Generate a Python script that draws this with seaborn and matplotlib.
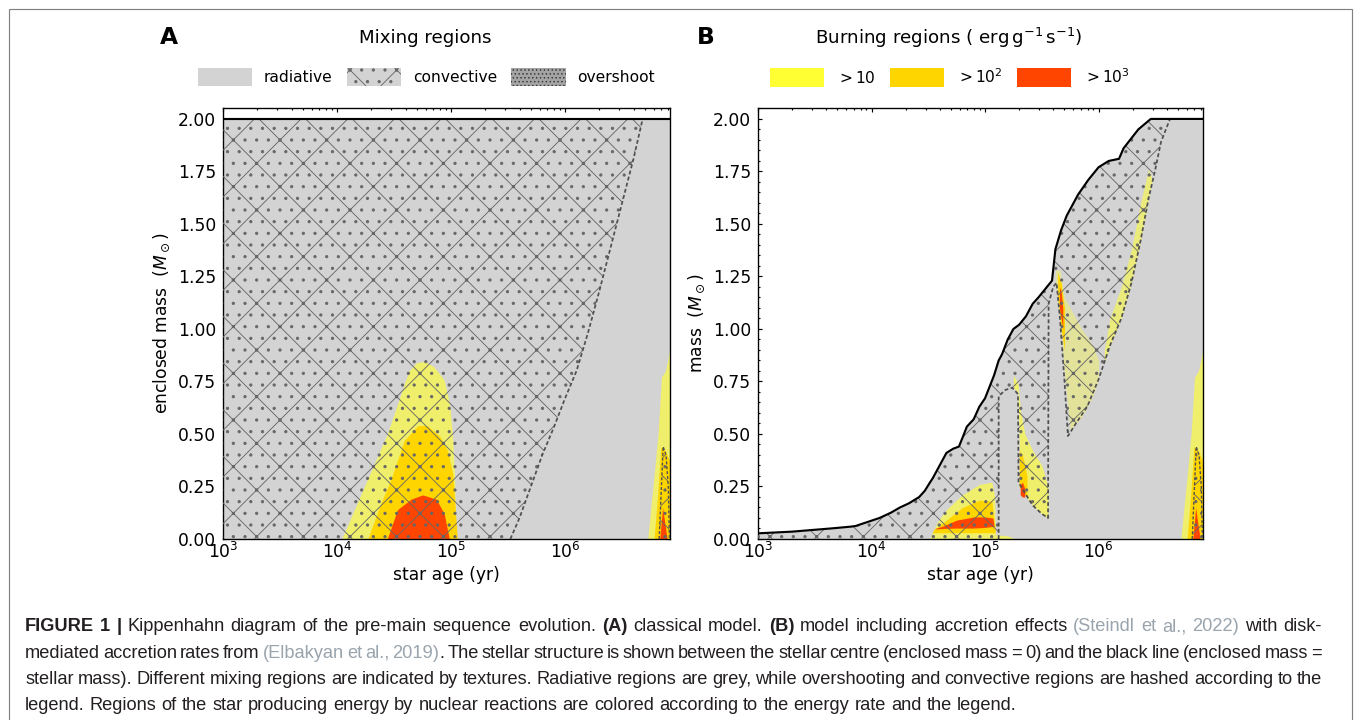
import numpy as np
import matplotlib
matplotlib.use("Agg")
import matplotlib.pyplot as plt
from matplotlib.patches import Patch, Rectangle
from matplotlib.ticker import MultipleLocator, FormatStrFormatter
import seaborn as sns

W, H, DPI = 1355, 720, 140

# ---------------- panel A: classical model (log10 age [yr], mass [Msun]) -----
a_mass_log = [3.0, 6.92]
a_mass = [2.0, 2.0]
# convective / radiative boundary
a_conv_edge_log = [5.52, 5.6, 5.7, 5.8, 5.9, 6.0, 6.1, 6.2, 6.3, 6.4, 6.5, 6.6, 6.68]
a_conv_edge_m = [0.0, 0.1, 0.25, 0.4, 0.53, 0.67, 0.8, 0.98, 1.18, 1.39, 1.6, 1.81, 2.0]
# burning domes
a_yel_log = [4.04, 4.24, 4.44, 4.63, 4.70, 4.77, 4.85, 4.94, 4.99, 5.015, 5.03, 5.045]
a_yel_m = [0.0, 0.25, 0.5, 0.8, 0.84, 0.845, 0.82, 0.757, 0.63, 0.47, 0.31, 0.0]
a_org_log = [4.27, 4.37, 4.47, 4.59, 4.71, 4.79, 4.90, 4.97, 5.015, 5.055]
a_org_m = [0.0, 0.15, 0.28, 0.47, 0.54, 0.54, 0.49, 0.42, 0.31, 0.0]
a_red_log = [4.44, 4.53, 4.65, 4.75, 4.87, 4.94, 4.985]
a_red_m = [0.0, 0.14, 0.19, 0.21, 0.19, 0.12, 0.0]

# ---------------- ZAMS end (same in both panels) ------------------------------
z_yel_log = [6.725, 6.78, 6.815, 6.845, 6.88, 6.93]
z_yel_m = [0.0, 0.3, 0.50, 0.77, 0.80, 0.93]
z_org_log = [6.78, 6.81, 6.84, 6.88, 6.93]
z_org_m = [0.0, 0.2, 0.44, 0.42, 0.35]
z_conv_log = [6.825, 6.86, 6.885, 6.905, 6.915]
z_conv_m = [0.0, 0.44, 0.40, 0.25, 0.0]
z_red_log = [6.83, 6.855, 6.895]
z_red_m = [0.0, 0.15, 0.0]

# ---------------- panel B: accretion model -----------------------------------
b_mass_log = [3.0, 3.3, 3.66, 3.82, 3.86, 4.07, 4.17, 4.25, 4.33, 4.42, 4.47, 4.51,
              4.54, 4.60, 4.66, 4.72, 4.77, 4.80, 4.84, 4.90, 4.95, 5.0, 5.04, 5.08,
              5.12, 5.15, 5.2, 5.25, 5.3, 5.36, 5.42, 5.47, 5.53, 5.59, 5.62, 5.67,
              5.72, 5.82, 5.91, 6.0, 6.09, 6.18, 6.22, 6.35, 6.46, 6.92]
b_mass = [0.027, 0.035, 0.051, 0.059, 0.062, 0.10, 0.125, 0.15, 0.17, 0.20, 0.23, 0.265,
          0.29, 0.35, 0.41, 0.43, 0.44, 0.48, 0.535, 0.57, 0.63, 0.67, 0.725, 0.78,
          0.85, 0.88, 0.95, 1.0, 1.02, 1.06, 1.12, 1.15, 1.19, 1.23, 1.38, 1.47,
          1.54, 1.64, 1.71, 1.77, 1.80, 1.81, 1.86, 1.95, 2.0, 2.0]
# lower edge of the convective envelope (radiative spikes below it)
b_conv_low_log = [3.0, 5.12, 5.12, 5.18, 5.24, 5.29, 5.295, 5.35, 5.42, 5.5, 5.555,
                  5.56, 5.6, 5.63, 5.66, 5.70, 5.73, 5.8, 5.9, 6.0, 6.1, 6.2, 6.29,
                  6.37, 6.44, 6.5, 6.55, 6.6, 6.63]
b_conv_low_m = [0.0, 0.0, 0.68, 0.71, 0.72, 0.69, 0.27, 0.22, 0.16, 0.12, 0.10,
                1.12, 1.2, 1.22, 1.05, 0.75, 0.49, 0.55, 0.63, 0.76, 0.92, 1.05, 1.22,
                1.42, 1.62, 1.76, 1.89, 1.96, 2.0]
# burning bands (lower / upper mass)
b_yel1_log = [4.51, 4.58, 4.66, 4.80, 4.95, 5.06, 5.085, 5.09, 5.2, 5.27]
b_yel1_m = [0.0, 0.08, 0.14, 0.21, 0.26, 0.27, 0.2, 0.02, 0.015, 0.0]
b_org1_log = [4.54, 4.66, 4.80, 4.95, 5.06, 5.09]
b_org1_lo = [0.03, 0.03, 0.03, 0.03, 0.03, 0.03]
b_org1_hi = [0.04, 0.09, 0.15, 0.185, 0.18, 0.04]
b_red1_log = [4.56, 4.63, 4.75, 4.9, 5.0, 5.07, 5.08]
b_red1_lo = [0.048, 0.05, 0.052, 0.052, 0.055, 0.06, 0.055]
b_red1_hi = [0.05, 0.062, 0.09, 0.105, 0.105, 0.10, 0.055]

b_yel2_log = [5.25, 5.29, 5.31, 5.35, 5.42, 5.5, 5.555]
b_yel2_lo = [0.72, 0.70, 0.26, 0.21, 0.16, 0.12, 0.10]
b_yel2_hi = [0.78, 0.74, 0.62, 0.5, 0.42, 0.35, 0.25]
b_org2_log = [5.30, 5.33, 5.37]
b_org2_lo = [0.25, 0.22, 0.2]
b_org2_hi = [0.42, 0.40, 0.3]
b_red2_log = [5.31, 5.33, 5.35]
b_red2_lo = [0.21, 0.2, 0.2]
b_red2_hi = [0.26, 0.27, 0.24]

b_yel3_log = [5.62, 5.66, 5.70, 5.75, 5.85, 5.95, 6.0]
b_yel3_lo = [1.22, 1.05, 0.78, 0.52, 0.58, 0.68, 0.76]
b_yel3_hi = [1.28, 1.28, 1.15, 1.1, 1.0, 0.92, 0.85]
b_org3_log = [5.64, 5.67, 5.70]
b_org3_lo = [1.15, 1.0, 0.9]
b_org3_hi = [1.27, 1.22, 1.1]
b_red3_log = [5.655, 5.67, 5.685]
b_red3_lo = [1.1, 1.05, 1.0]
b_red3_hi = [1.2, 1.18, 1.1]

b_yel4_log = [6.05, 6.1, 6.2, 6.29, 6.37, 6.44, 6.47]
b_yel4_lo = [0.84, 0.92, 1.05, 1.22, 1.42, 1.62, 1.7]
b_yel4_hi = [0.9, 1.05, 1.2, 1.38, 1.6, 1.76, 1.72]

mix_labels = ['radiative', 'convective', 'overshoot']
burn_labels = [r'$>10$', r'$>10^2$', r'$>10^3$']

caption = [
    "**FIGURE 1 |** Kippenhahn diagram of the pre-main sequence evolution. **(A)** classical model. "
    "**(B)** model including accretion effects {(Steindl et al., 2022)} with disk-",
    "mediated accretion rates from {(Elbakyan et al., 2019)}. The stellar structure is shown between "
    "the stellar centre (enclosed mass = 0) and the black line (enclosed mass =",
    "stellar mass). Different mixing regions are indicated by textures. Radiative regions are grey, "
    "while overshooting and convective regions are hashed according to the",
    "legend. Regions of the star producing energy by nuclear reactions are colored according to the "
    "energy rate and the legend.",
]

GREY = '#d3d3d3'
HATCH = '#666666'
YEL = '#ffff33'
GOLD = '#ffd500'
RED = '#ff4500'
TXT = '#231f20'
CITE = '#9aa4ad'

sns.set_theme(style='ticks')
plt.rcParams.update({
    'font.family': ['DejaVu Sans'],
    'hatch.linewidth': 0.45,
    'axes.linewidth': 0.7,
    'axes.edgecolor': 'black',
    'xtick.color': 'black',
    'ytick.color': 'black',
    'text.color': 'black',
    'axes.labelcolor': 'black',
})

fig = plt.figure(figsize=(W / DPI, H / DPI), dpi=DPI)
axA = fig.add_axes([223 / W, 1 - 539 / H, 447 / W, 431 / H])
axB = fig.add_axes([758 / W, 1 - 539 / H, 445 / W, 431 / H])


def L(v):
    return 10 ** np.asarray(v, float)


def band(ax, xlog, lo, hi, color, alpha=1.0, z=2):
    ax.fill_between(L(xlog), lo, hi, color=color, alpha=alpha, linewidth=0, zorder=z)


def conv(ax, xlog, m):
    ax.fill(L(xlog), m, facecolor='none', edgecolor=HATCH, hatch='x..', linewidth=0, zorder=3)


def edge(ax, xlog, m, color='#505050', lw=0.9, ls=(0, (2.2, 1.4)), z=4):
    sns.lineplot(x=L(xlog), y=m, ax=ax, color=color, lw=lw, linestyle=ls,
                 sort=False, estimator=None, zorder=z, legend=False)


for ax in (axA, axB):
    ax.set_xscale('log')

# ---- panel A
band(axA, a_mass_log, 0, a_mass, GREY, z=1)
band(axA, a_yel_log, 0, a_yel_m, YEL, 0.65)
band(axA, a_org_log, 0, a_org_m, GOLD)
band(axA, a_red_log, 0, a_red_m, RED)
conv(axA, [a_mass_log[0], a_mass_log[0]] + a_conv_edge_log[::-1],
     [0.0, a_mass[0]] + a_conv_edge_m[::-1])
edge(axA, a_conv_edge_log, a_conv_edge_m)

# ---- panel B
band(axB, b_mass_log, 0, b_mass, GREY, z=1)
band(axB, b_yel1_log, 0, b_yel1_m, YEL, 0.65)
band(axB, b_org1_log, b_org1_lo, b_org1_hi, GOLD)
band(axB, b_red1_log, b_red1_lo, b_red1_hi, RED)
band(axB, b_yel2_log, b_yel2_lo, b_yel2_hi, YEL, 0.65)
band(axB, b_org2_log, b_org2_lo, b_org2_hi, GOLD)
band(axB, b_red2_log, b_red2_lo, b_red2_hi, RED)
band(axB, b_yel3_log, b_yel3_lo, b_yel3_hi, YEL, 0.35)
band(axB, b_org3_log, b_org3_lo, b_org3_hi, GOLD)
band(axB, b_red3_log, b_red3_lo, b_red3_hi, RED)
band(axB, b_yel4_log, b_yel4_lo, b_yel4_hi, YEL, 0.55)
top = [i for i, v in enumerate(b_mass_log) if v <= b_conv_low_log[-1]]
conv(axB, [b_mass_log[i] for i in top] + b_conv_low_log[::-1],
     [b_mass[i] for i in top] + b_conv_low_m[::-1])
edge(axB, b_conv_low_log[1:], b_conv_low_m[1:])

# ---- ZAMS end, both panels
for ax in (axA, axB):
    band(ax, z_yel_log, 0, z_yel_m, YEL, 0.65)
    band(ax, z_org_log, 0, z_org_m, GOLD)
    band(ax, z_red_log, 0, z_red_m, RED)
    conv(ax, z_conv_log, z_conv_m)
    edge(ax, z_conv_log, z_conv_m, lw=0.7)

# stellar mass
sns.lineplot(x=L(a_mass_log), y=a_mass, ax=axA, color='black', lw=1.1,
             sort=False, estimator=None, zorder=5, legend=False)
sns.lineplot(x=L(b_mass_log), y=b_mass, ax=axB, color='black', lw=1.1,
             sort=False, estimator=None, zorder=5, legend=False)

for ax, yl in ((axA, r'enclosed mass  ($M_\odot$)'), (axB, r'mass  ($M_\odot$)')):
    ax.set_xlim(1e3, 10 ** 6.92)
    ax.set_ylim(0, 2.052)
    ax.yaxis.set_major_locator(MultipleLocator(0.25))
    ax.yaxis.set_minor_locator(MultipleLocator(0.05))
    ax.yaxis.set_major_formatter(FormatStrFormatter('%.2f'))
    ax.tick_params(which='both', direction='in', top=True, right=True,
                   labelsize=8.8, width=0.6)
    ax.tick_params(which='major', length=2.2)
    ax.tick_params(which='minor', length=1.2)
    ax.tick_params(axis='x', pad=1.5)
    ax.set_xlabel('star age (yr)', fontsize=8.8, labelpad=2)
    ax.set_ylabel(yl, fontsize=8.8, labelpad=3)
    for s in ax.spines.values():
        s.set_linewidth(0.7)

# legends
mix_handles = [
    Patch(facecolor=GREY, linewidth=0),
    Patch(facecolor=GREY, edgecolor=HATCH, hatch='x..', linewidth=0),
    Patch(facecolor='#a4a4a4', edgecolor='#3a3a3a', hatch='......', linewidth=0),
]
burn_handles = [Patch(facecolor=c, linewidth=0) for c in (YEL, GOLD, RED)]
leg_kw = dict(loc='center', ncol=3, frameon=False, fontsize=8, handlelength=3.5,
              handleheight=1.45, handletextpad=0.75, columnspacing=0.9, borderpad=0)
axA.legend(mix_handles, mix_labels, bbox_to_anchor=(0.455, 1 + 31 / 431), **leg_kw)
axB.legend(burn_handles, burn_labels, bbox_to_anchor=(0.431, 1 + 31 / 431), **leg_kw)

fig.text(425 / W, 1 - 38 / H, 'Mixing regions', ha='center', va='center', fontsize=9.4)
fig.text(949 / W, 1 - 38 / H, r'Burning regions ( $\mathrm{erg\,g^{-1}\,s^{-1}}$)',
         ha='center', va='center', fontsize=9.4)
fig.text(169 / W, 1 - 38 / H, 'A', ha='center', va='center', fontsize=12, fontweight='bold')
fig.text(706 / W, 1 - 38 / H, 'B', ha='center', va='center', fontsize=12, fontweight='bold')

# outer frame
fig.add_artist(Rectangle((9 / W, -0.05), (1352 - 9) / W, 1.05 - 9 / H,
                         transform=fig.transFigure, fill=False,
                         edgecolor='#808080', linewidth=0.6))

# ---- caption (word-justified, one size for all lines)
CAPF = ['Liberation Sans', 'DejaVu Sans']
r = fig.canvas.get_renderer()


def parse(line):
    words, cur, style, buf, i = [], [], 'n', '', 0
    while i < len(line):
        if line.startswith('**', i):
            if buf:
                cur.append((buf, style))
                buf = ''
            style = 'n' if style == 'b' else 'b'
            i += 2
            continue
        c = line[i]
        if c in '{}':
            if buf:
                cur.append((buf, style))
                buf = ''
            style = 'c' if c == '{' else 'n'
        elif c == ' ':
            if buf:
                cur.append((buf, style))
                buf = ''
            if cur:
                words.append(cur)
                cur = []
        else:
            buf += c
        i += 1
    if buf:
        cur.append((buf, style))
    if cur:
        words.append(cur)
    return words


sty = {'n': dict(color=TXT), 'b': dict(color=TXT, fontweight='bold'), 'c': dict(color=CITE)}


def measure(line, size):
    tot = 0.0
    words = parse(line)
    for wd in words:
        for chunk, st in wd:
            t = fig.text(0, 0, chunk, fontsize=size, family=CAPF, **sty[st])
            tot += t.get_window_extent(renderer=r).width
            t.remove()
    t = fig.text(0, 0, 'a a', fontsize=size, family=CAPF)
    t2 = fig.text(0, 0, 'aa', fontsize=size, family=CAPF)
    sp = t.get_window_extent(renderer=r).width - t2.get_window_extent(renderer=r).width
    t.remove()
    t2.remove()
    return tot, sp, len(words)


x0, x1 = 25, 1322
target = x1 - x0
fits = []
for k, line in enumerate(caption[:-1]):
    wsum, sp, n = measure(line, 10)
    slack = 1.0 if k == 0 else 0.5
    fits.append(10 * target / (wsum + slack * sp * (n - 1)))
size = min(fits)
space = measure('a', size)[1]
baselines = [631, 658, 684, 710]
for li, line in enumerate(caption):
    last = li == len(caption) - 1
    objs = []
    for wd in parse(line):
        row = []
        for chunk, st in wd:
            t = fig.text(0, 1 - baselines[li] / H, chunk, fontsize=size, family=CAPF,
                         va='baseline', ha='left', **sty[st])
            row.append((t, t.get_window_extent(renderer=r).width))
        objs.append(row)
    total = sum(w for row in objs for _, w in row)
    gap = space if last else (target - total) / (len(objs) - 1)
    x = x0
    for row in objs:
        for t, w in row:
            t.set_x(x / W)
            x += w
        x += gap

fig.savefig('out.png', dpi=DPI)
